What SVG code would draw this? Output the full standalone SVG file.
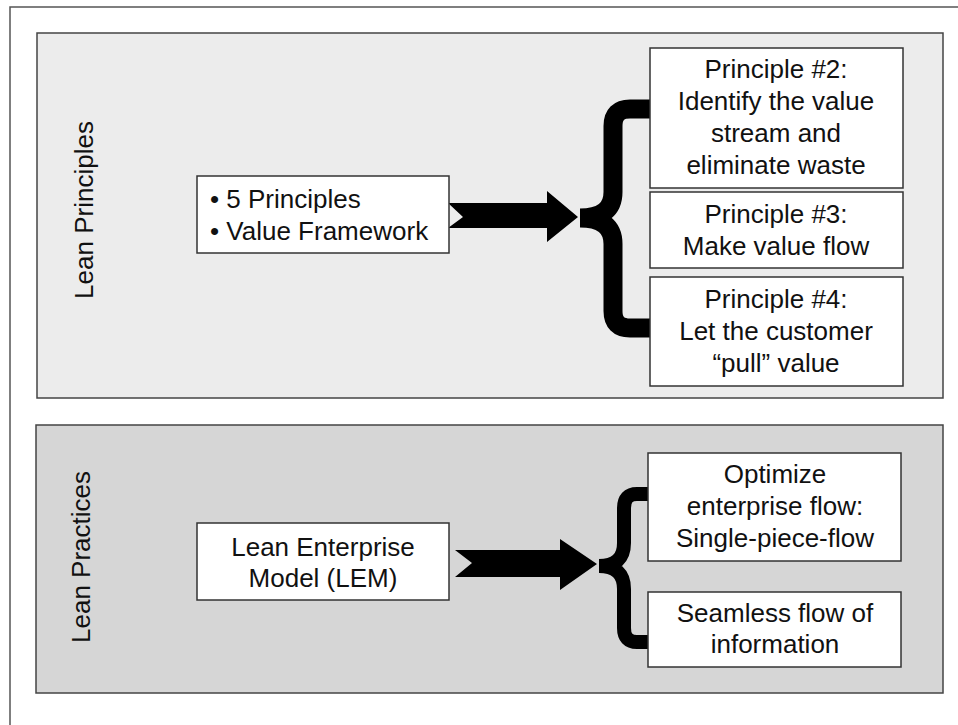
<svg xmlns="http://www.w3.org/2000/svg" width="958" height="725" viewBox="0 0 958 725">
<style>
.frame{fill:none;stroke:#555;stroke-width:1.5}
.panel{stroke:#444;stroke-width:1.5}
.box{fill:#fff;stroke:#333;stroke-width:1.5}
.t{font-family:"Liberation Sans",Arial,sans-serif;font-size:26px;fill:#111}
.c{text-anchor:middle}
.brace{fill:none;stroke:#000;stroke-linejoin:bevel;stroke-linecap:butt}
.arrow{fill:#000}
</style>
<rect width="958" height="725" fill="#fff"/>
<path class="frame" d="M10,725 V7 H958"/>

<g id="panel-principles">
<rect class="panel" x="37" y="33" width="906" height="365" fill="#ececec"/>
<text class="t c" transform="translate(93,210) rotate(-90)">Lean Principles</text>
</g>
<g id="panel-practices">
<rect class="panel" x="36" y="425" width="907" height="268" fill="#d6d6d6"/>
<text class="t c" transform="translate(90,557) rotate(-90)">Lean Practices</text>
</g>

<g id="connectors">
<path class="arrow" d="M448,203 H547 V191 L578,217 L547,242 V228 H448 L463,217 Z"/>
<path class="brace" stroke-width="19" d="M651,109 H630 Q613,109 613,126 V192 Q613,218 580,218 Q613,218 613,244 V311 Q613,328 630,328 H651"/>
<path class="arrow" d="M455,550 H560 V539 L597,564 L560,590 V577 H455 L472,563 Z"/>
<path class="brace" stroke-width="14" d="M648,494 H637 Q624,494 624,508 V543 Q624,566 599,566 Q624,566 624,589 V628 Q624,642 637,642 H648"/>
</g>

<g id="node-principles">
<rect class="box" x="197" y="176" width="252" height="77"/>
<text class="t" x="210" y="208">• 5 Principles</text>
<text class="t" x="210" y="240">• Value Framework</text>
</g>

<g id="node-p2">
<rect class="box" x="650" y="48" width="253" height="140"/>
<text class="t c" x="776" y="78">Principle #2:</text>
<text class="t c" x="776" y="110">Identify the value</text>
<text class="t c" x="776" y="142">stream and</text>
<text class="t c" x="776" y="174">eliminate waste</text>
</g>

<g id="node-p3">
<rect class="box" x="650" y="192" width="253" height="76"/>
<text class="t c" x="776" y="223">Principle #3:</text>
<text class="t c" x="776" y="255">Make value flow</text>
</g>

<g id="node-p4">
<rect class="box" x="650" y="277" width="253" height="109"/>
<text class="t c" x="776" y="308">Principle #4:</text>
<text class="t c" x="776" y="340">Let the customer</text>
<text class="t c" x="776" y="372">“pull” value</text>
</g>

<g id="node-lem">
<rect class="box" x="197" y="523" width="252" height="77"/>
<text class="t c" x="323" y="556">Lean Enterprise</text>
<text class="t c" x="323" y="587">Model (LEM)</text>
</g>

<g id="node-optimize">
<rect class="box" x="648" y="453" width="253" height="108"/>
<text class="t c" x="775" y="483">Optimize</text>
<text class="t c" x="775" y="515">enterprise flow:</text>
<text class="t c" x="775" y="547">Single-piece-flow</text>
</g>

<g id="node-seamless">
<rect class="box" x="648" y="592" width="253" height="75"/>
<text class="t c" x="775" y="622">Seamless flow of</text>
<text class="t c" x="775" y="653">information</text>
</g>
</svg>
